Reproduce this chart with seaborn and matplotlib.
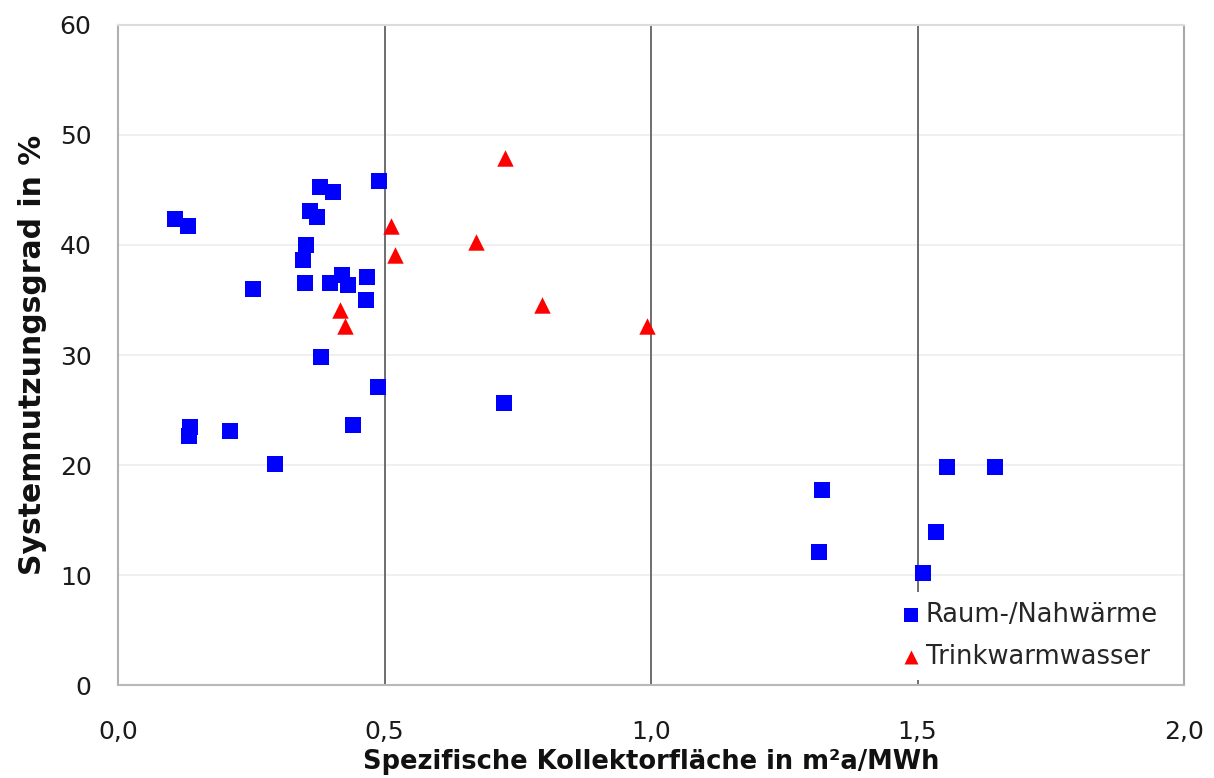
import numpy as np
import pandas as pd
import matplotlib
matplotlib.use("Agg")
import matplotlib.pyplot as plt
import seaborn as sns

# Raum-/Nahwärme systems: specific collector area vs. system efficiency
raum_x = [0.107, 0.132, 0.379, 0.404, 0.490, 0.360, 0.374, 0.353, 0.348, 0.254,
          0.351, 0.398, 0.420, 0.432, 0.468, 0.465, 0.380, 0.487, 0.440, 0.135,
          0.134, 0.211, 0.295, 0.724, 1.320, 1.316, 1.556, 1.645, 1.535, 1.511]
raum_y = [42.4, 41.7, 45.3, 44.8, 45.8, 43.1, 42.5, 40.0, 38.6, 36.0,
          36.5, 36.5, 37.3, 36.4, 37.1, 35.0, 29.8, 27.1, 23.6, 23.5,
          22.6, 23.1, 20.1, 25.6, 17.7, 12.1, 19.8, 19.8, 13.9, 10.2]

# Trinkwarmwasser systems
tww_x = [0.727, 0.513, 0.671, 0.520, 0.795, 0.992, 0.416, 0.426]
tww_y = [47.9, 41.7, 40.3, 39.1, 34.5, 32.6, 34.1, 32.6]

categories = ["Raum-/Nahwärme", "Trinkwarmwasser"]
x_ticks = [0.0, 0.5, 1.0, 1.5, 2.0]
x_ticklabels = ["0,0", "0,5", "1,0", "1,5", "2,0"]
y_ticks = [0, 10, 20, 30, 40, 50, 60]

raum = pd.DataFrame({"x": raum_x, "y": raum_y})
tww = pd.DataFrame({"x": tww_x, "y": tww_y})

sns.set_theme(style="white")
plt.rcParams["font.family"] = ["DejaVu Sans"]

fig = plt.figure(figsize=(12.14, 7.78), dpi=100)
ax = fig.add_axes([0.0972, 0.1195, 0.8781, 0.8484])

# faint horizontal grid, dark vertical grid
for yv in y_ticks[1:-1]:
    ax.axhline(yv, color="#ededed", lw=1.2, zorder=0)
for xv in x_ticks[1:-1]:
    ax.axvline(xv, color="#6e6e6e", lw=1.4, zorder=0.5)

sns.scatterplot(data=raum, x="x", y="y", color="#0000ff", marker="s",
                s=125, linewidth=0, ax=ax, zorder=3, label=categories[0])
sns.scatterplot(data=tww, x="x", y="y", color="#ff0000", marker="^",
                s=140, linewidth=0, ax=ax, zorder=3, label=categories[1])

ax.set_xlim(0, 2.0)
ax.set_ylim(0, 60)
ax.set_xticks(x_ticks)
ax.set_xticklabels(x_ticklabels)
ax.set_yticks(y_ticks)
ax.tick_params(axis="x", length=0, pad=25, labelsize=18, colors="#1a1a1a")
ax.tick_params(axis="y", length=0, pad=19, labelsize=18, colors="#1a1a1a")

for name, sp in ax.spines.items():
    sp.set_visible(True)
    sp.set_linewidth(1.5)
ax.spines["left"].set_color("#b0b0b0")
ax.spines["bottom"].set_color("#b8b8b8")
ax.spines["right"].set_color("#a8a8a8")
ax.spines["top"].set_color("#dcdcdc")

ax.set_xlabel("Spezifische Kollektorfläche in m²a/MWh", fontsize=18.5,
              fontweight="bold", color="#111111", labelpad=4)
ax.set_ylabel("Systemnutzungsgrad in %", fontsize=21.5,
              fontweight="bold", color="#111111", labelpad=9)

handles, labels = ax.get_legend_handles_labels()
leg = ax.legend(handles, labels, loc="lower right", fontsize=18.5,
                markerscale=0.85, handletextpad=0.05, handlelength=1.0,
                labelspacing=0.62, frameon=True, facecolor="white",
                edgecolor="none", framealpha=1.0,
                bbox_to_anchor=(0.997, -0.012), borderpad=0.4)
leg.set_zorder(5)

fig.savefig("out.png", dpi=100, facecolor="white")
